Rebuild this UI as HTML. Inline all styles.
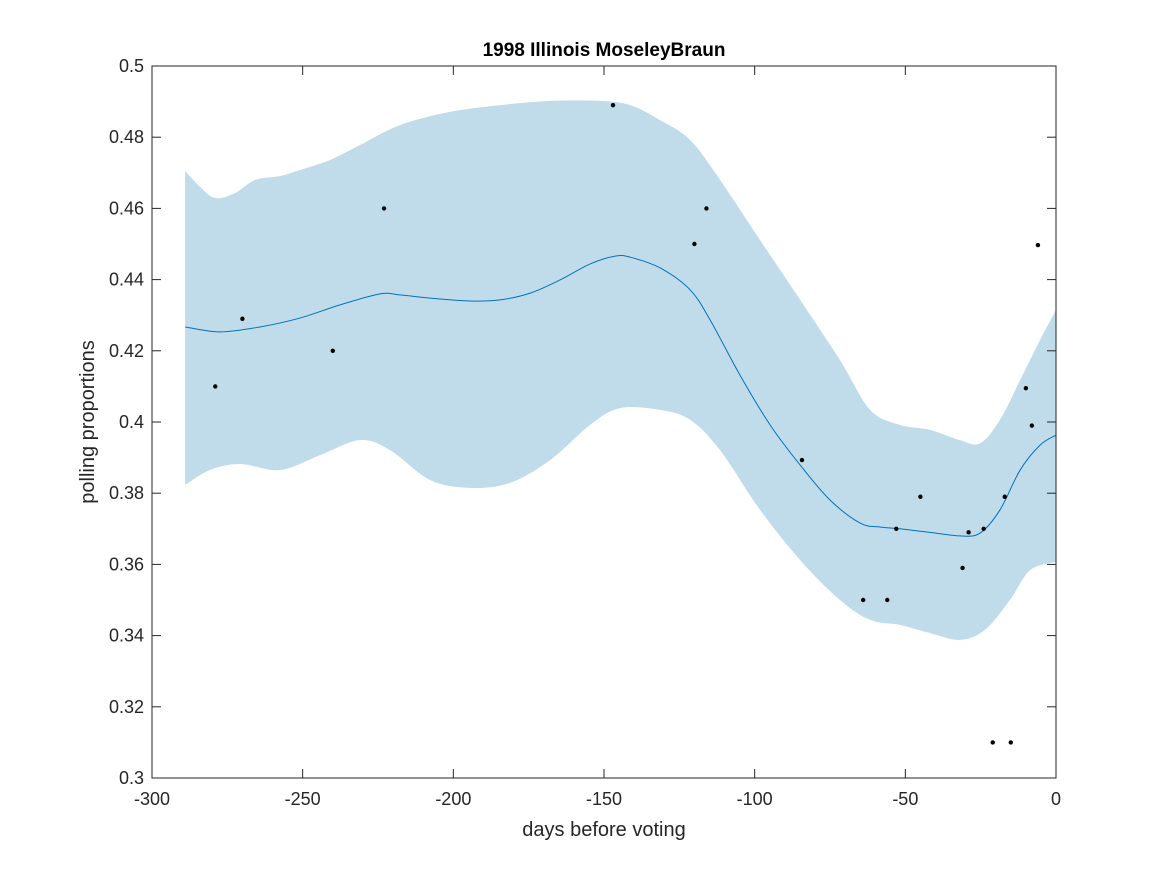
<!DOCTYPE html>
<html><head><meta charset="utf-8"><style>
body{margin:0;background:#fff;}
svg text{font-family:"Liberation Sans",sans-serif;fill:#262626;}
</style></head><body>
<svg id="chart" width="1167" height="875"></svg>
<script>
const xTicks=[-300,-250,-200,-150,-100,-50,0];
const yTicks=[0.3,0.32,0.34,0.36,0.38,0.4,0.42,0.44,0.46,0.48,0.5];
const yTickLabels=["0.3","0.32","0.34","0.36","0.38","0.4","0.42","0.44","0.46","0.48","0.5"];
const pollDays=[-279,-270,-240,-223,-147,-120,-116,-84.3,-64,-56,-53,-45,-31,-29,-24,-21,-17,-15,-10,-8,-6];
const pollValues=[0.41,0.429,0.42,0.46,0.489,0.45,0.46,0.3893,0.35,0.35,0.37,0.379,0.359,0.369,0.37,0.31,0.379,0.31,0.4095,0.399,0.4497];
const meanDays=[-289,-277.4,-264.2,-250.9,-237.6,-224.3,-217.7,-207.7,-194.5,-184.5,-174.5,-164.6,-154.6,-146.3,-141.3,-131.4,-121.4,-114.8,-104.9,-94.9,-84.9,-75,-65,-58.4,-51.8,-41.8,-31.9,-25.2,-18.6,-11.9,-5.3,0];
const meanValues=[.4267,.4253,.4267,.4292,.4329,.4360,.4357,.4348,.4340,.4343,.4362,.4399,.4444,.4466,.4463,.4433,.4371,.4287,.4132,.3992,.3879,.3781,.3716,.3705,.3700,.3690,.3680,.3688,.3753,.3865,.3935,.3963];
const upperDays=[-289,-284,-279,-272.5,-265.8,-257.5,-250.9,-240.9,-231,-217.7,-201.1,-184.5,-167.9,-151.3,-141.3,-131.4,-121.4,-111.5,-98.2,-84.9,-71.7,-61.7,-51.8,-41.8,-31.9,-25.2,-18.6,-11.9,-5.3,0];
const upperValues=[.4705,.4660,.4629,.4643,.4680,.4691,.4708,.4736,.4778,.4834,.4871,.4890,.4902,.4902,.4890,.4848,.4792,.4680,.4511,.4343,.4174,.4034,.3992,.3978,.3949,.3940,.4006,.4118,.4230,.4315];
const lowerDays=[-289,-280.8,-270.8,-257.5,-244.2,-231,-221,-207.7,-194.5,-181.2,-167.9,-154.6,-144.7,-131.4,-121.4,-111.5,-98.2,-84.9,-71.7,-61.7,-51.8,-41.8,-31.9,-23.6,-15.3,-8.6,0];
const lowerValues=[.3823,.3865,.3882,.3865,.3907,.3949,.3921,.3837,.3815,.3829,.3893,.3992,.4039,.4034,.4006,.3921,.3753,.3612,.3500,.3444,.3430,.3407,.3388,.3416,.3500,.3584,.3607];

const L=152,R=1056,T=66,B=778;
const sx=v=>L+(v+300)/300*(R-L);
const sy=v=>B-(v-0.3)/0.2*(B-T);
const NS="http://www.w3.org/2000/svg";
const svg=document.getElementById('chart');
function mk(tag,attrs,parent){const e=document.createElementNS(NS,tag);for(const k in attrs)e.setAttribute(k,attrs[k]);(parent||svg).appendChild(e);return e;}
function smooth(pts){let d=`M${pts[0][0]},${pts[0][1]}`;for(let i=0;i<pts.length-1;i++){const p0=pts[Math.max(0,i-1)],p1=pts[i],p2=pts[i+1],p3=pts[Math.min(pts.length-1,i+2)];
d+=` C${p1[0]+(p2[0]-p0[0])/6},${p1[1]+(p2[1]-p0[1])/6} ${p2[0]-(p3[0]-p1[0])/6},${p2[1]-(p3[1]-p1[1])/6} ${p2[0]},${p2[1]}`;}return d;}
const up=upperDays.map((d,i)=>[sx(d),sy(upperValues[i])]);
const lo=lowerDays.map((d,i)=>[sx(d),sy(lowerValues[i])]).reverse();
let bd=smooth(up)+" L"+lo[0][0]+","+lo[0][1]+smooth(lo).replace(/^M[^ C]+/,"")+" Z";
const band=mk('path',{d:bd,fill:'#c0dceb',stroke:'none'});


const ml=mk('path',{d:smooth(meanDays.map((d,i)=>[sx(d),sy(meanValues[i])])),fill:'none',stroke:'#0072bd','stroke-width':1});


pollDays.forEach((d,i)=>{const c=mk('circle',{cx:sx(d),cy:sy(pollValues[i]),r:2.2,fill:'#000'});

});
const box=mk('rect',{x:L,y:T,width:R-L,height:B-T,fill:'none',stroke:'#262626','stroke-width':1});


xTicks.forEach(t=>{const x=sx(t);mk('line',{x1:x,y1:B,x2:x,y2:B-9,stroke:'#262626'});mk('line',{x1:x,y1:T,x2:x,y2:T+9,stroke:'#262626'});
const tx=mk('text',{x:x,y:B+27,'text-anchor':'middle','font-size':18});tx.textContent=t;

});
yTicks.forEach((t,i)=>{const y=sy(t);mk('line',{x1:L,y1:y,x2:L+9,y2:y,stroke:'#262626'});mk('line',{x1:R,y1:y,x2:R-9,y2:y,stroke:'#262626'});
const tx=mk('text',{x:L-8,y:y+6,'text-anchor':'end','font-size':18});tx.textContent=yTickLabels[i];

});
const title=mk('text',{x:604,y:56,'text-anchor':'middle','font-size':19,'font-weight':'bold',style:'fill:#000'});title.textContent='1998 Illinois MoseleyBraun';


const xl=mk('text',{x:604,y:836,'text-anchor':'middle','font-size':20});xl.textContent='days before voting';


const yl=mk('text',{x:0,y:0,'text-anchor':'middle','font-size':20,transform:'translate(94,422) rotate(-90)'});yl.textContent='polling proportions';


</script>
</body></html>
